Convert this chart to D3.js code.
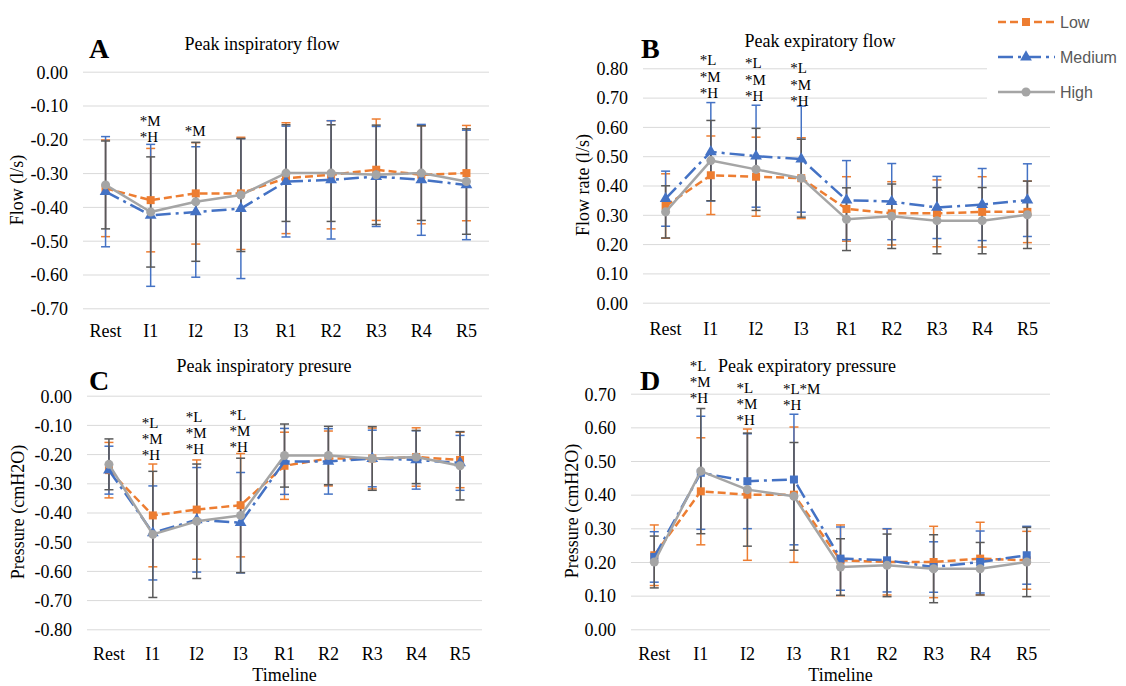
<!DOCTYPE html>
<html>
<head>
<meta charset="utf-8">
<script src="https://cdn.jsdelivr.net/npm/d3@7"></script>
<style>
  body { margin: 0; background: #fff; }
  svg { display: block; }
  text { font-family: "Liberation Serif", "Times New Roman", serif; fill: #000; }
  .legend text { font-family: "Liberation Sans", Arial, sans-serif; fill: #595959; }
</style>
</head>
<body>
<svg id="chart" width="1126" height="686"></svg>
<script>
// 时间点
var categories = ['Rest', 'I1', 'I2', 'I3', 'R1', 'R2', 'R3', 'R4', 'R5']
var seriesNames = ['Low', 'Medium', 'High']

// A 吸气峰流量
var pifLow = [-0.345, -0.38, -0.36, -0.36, -0.315, -0.305, -0.29, -0.305, -0.30]
var pifLowSd = [0.143, 0.153, 0.15, 0.166, 0.164, 0.16, 0.15, 0.145, 0.141]
var pifMed = [-0.355, -0.425, -0.415, -0.405, -0.325, -0.32, -0.31, -0.32, -0.335]
var pifMedSd = [0.163, 0.21, 0.193, 0.207, 0.164, 0.175, 0.148, 0.164, 0.162]
var pifHigh = [-0.335, -0.415, -0.385, -0.365, -0.30, -0.30, -0.305, -0.30, -0.325]
var pifHighSd = [0.13, 0.163, 0.176, 0.167, 0.143, 0.143, 0.147, 0.14, 0.156]

// B 呼气峰流量
var pefLow = [0.33, 0.435, 0.43, 0.425, 0.32, 0.305, 0.305, 0.31, 0.31]
var pefLowSd = [0.11, 0.134, 0.135, 0.138, 0.11, 0.108, 0.114, 0.12, 0.105]
var pefMed = [0.355, 0.515, 0.50, 0.49, 0.35, 0.345, 0.325, 0.335, 0.35]
var pefMedSd = [0.094, 0.168, 0.174, 0.181, 0.135, 0.13, 0.106, 0.123, 0.124]
var pefHigh = [0.31, 0.485, 0.455, 0.425, 0.285, 0.295, 0.28, 0.28, 0.30]
var pefHighSd = [0.089, 0.137, 0.14, 0.133, 0.107, 0.11, 0.113, 0.113, 0.115]

// C 吸气峰压
var pipLow = [-0.255, -0.41, -0.39, -0.375, -0.24, -0.215, -0.215, -0.21, -0.22]
var pipLowSd = [0.095, 0.176, 0.17, 0.177, 0.115, 0.094, 0.104, 0.10, 0.095]
var pipMed = [-0.255, -0.47, -0.425, -0.435, -0.225, -0.225, -0.215, -0.22, -0.23]
var pipMedSd = [0.082, 0.161, 0.179, 0.172, 0.113, 0.112, 0.097, 0.10, 0.094]
var pipHigh = [-0.235, -0.475, -0.43, -0.41, -0.205, -0.205, -0.215, -0.21, -0.24]
var pipHighSd = [0.087, 0.216, 0.196, 0.196, 0.108, 0.10, 0.109, 0.091, 0.117]

// D 呼气峰压
var pepLow = [0.22, 0.41, 0.40, 0.40, 0.205, 0.20, 0.20, 0.21, 0.205]
var pepLowSd = [0.09, 0.159, 0.195, 0.201, 0.105, 0.098, 0.106, 0.108, 0.086]
var pepMed = [0.215, 0.465, 0.44, 0.445, 0.21, 0.205, 0.185, 0.20, 0.22]
var pepMedSd = [0.075, 0.168, 0.141, 0.194, 0.094, 0.094, 0.075, 0.092, 0.086]
var pepHigh = [0.20, 0.47, 0.415, 0.395, 0.185, 0.19, 0.18, 0.18, 0.20]
var pepHighSd = [0.077, 0.186, 0.168, 0.16, 0.084, 0.093, 0.101, 0.078, 0.103]

// 刻度
var ticksA = [0, -0.1, -0.2, -0.3, -0.4, -0.5, -0.6, -0.7]
var ticksB = [0, 0.1, 0.2, 0.3, 0.4, 0.5, 0.6, 0.7, 0.8]
var ticksC = [0, -0.1, -0.2, -0.3, -0.4, -0.5, -0.6, -0.7, -0.8]
var ticksD = [0, 0.1, 0.2, 0.3, 0.4, 0.5, 0.6, 0.7]

// 显著性标注 (at = first line, in data units)
var notesA = [
  { cat: 'I1', lines: ['*M', '*H'], at: -0.146 },
  { cat: 'I2', lines: ['*M'], at: -0.175 },
]
var notesB = [
  { cat: 'I1', lines: ['*L', '*M', '*H'], at: 0.828 },
  { cat: 'I2', lines: ['*L', '*M', '*H'], at: 0.818 },
  { cat: 'I3', lines: ['*L', '*M', '*H'], at: 0.801 },
]
var notesC = [
  { cat: 'I1', lines: ['*L', '*M', '*H'], at: -0.092 },
  { cat: 'I2', lines: ['*L', '*M', '*H'], at: -0.072 },
  { cat: 'I3', lines: ['*L', '*M', '*H'], at: -0.066 },
]
var notesD = [
  { cat: 'I1', lines: ['*L', '*M', '*H'], at: 0.783 },
  { cat: 'I2', lines: ['*L', '*M', '*H'], at: 0.718 },
  { cat: 'I3', lines: ['*L*M', '*H'], at: 0.714 },
]

var serif = '"Liberation Serif", "Times New Roman", serif'

var style = {
  Low: { color: '#ED7D31', err: '#ED7D31', dash: '8,4', shape: d3.symbolSquare, size: 64 },
  Medium: { color: '#4472C4', err: '#4472C4', dash: '15,5,3,5', shape: d3.symbolTriangle, size: 60 },
  High: { color: '#A5A5A5', err: '#595959', dash: null, shape: d3.symbolCircle, size: 64 },
}

var panels = [
  {
    letter: 'A', title: 'Peak inspiratory flow', ylabel: 'Flow (l/s)',
    x0: 83, x1: 489, yTop: 71.7, yBot: 308.3, ticks: ticksA,
    series: [[pifLow, pifLowSd], [pifMed, pifMedSd], [pifHigh, pifHighSd]],
    notes: notesA, noteGap: 15.7,
    letterPos: [89, 58], titlePos: [262, 50], ylabelPos: [17, 190], catOffset: 22, timeline: false,
  },
  {
    letter: 'B', title: 'Peak expiratory flow', ylabel: 'Flow rate (l/s)',
    x0: 643, x1: 1050, yTop: 68.3, yBot: 302.7, ticks: ticksB,
    series: [[pefLow, pefLowSd], [pefMed, pefMedSd], [pefHigh, pefHighSd]],
    notes: notesB, noteGap: 16.5,
    letterPos: [641, 58], titlePos: [820, 47], ylabelPos: [583, 185], catOffset: 26.5, timeline: false,
  },
  {
    letter: 'C', title: 'Peak inspiratory presure', ylabel: 'Pressure (cmH2O)',
    x0: 87, x1: 482, yTop: 395.7, yBot: 629.3, ticks: ticksC,
    series: [[pipLow, pipLowSd], [pipMed, pipMedSd], [pipHigh, pipHighSd]],
    notes: notesC, noteGap: 16,
    letterPos: [89, 390], titlePos: [264, 372], ylabelPos: [18, 512], catOffset: 24.7, timeline: true,
  },
  {
    letter: 'D', title: 'Peak expiratory pressure', ylabel: 'Pressure (cmH2O)',
    x0: 631, x1: 1050, yTop: 393.7, yBot: 629.3, ticks: ticksD,
    series: [[pepLow, pepLowSd], [pepMed, pepMedSd], [pepHigh, pepHighSd]],
    notes: notesD, noteGap: 16, medSquare: true,
    letterPos: [640, 390], titlePos: [807, 372], ylabelPos: [572, 511], catOffset: 24.7, timeline: true,
  },
]

var svg = d3.select('#chart')

panels.forEach(function(p) {
  var x = d3.scaleBand().domain(categories).range([p.x0, p.x1])
  var cx = function(c) { return x(c) + x.bandwidth() / 2 }
  var y = d3.scaleLinear().domain(d3.extent(p.ticks)).range([p.yBot, p.yTop])
  var g = svg.append('g')

  // 网格 + y 轴
  var yAxis = d3.axisLeft(y)
    .tickValues(p.ticks)
    .tickSizeInner(-(p.x1 - p.x0))
    .tickSizeOuter(0)
    .tickPadding(15)
    .tickFormat(function(d) { return d.toFixed(2) })
  g.append('g')
    .attr('transform', 'translate(' + p.x0 + ',0)')
    .call(yAxis)
    .call(function(a) {
      a.attr('font-family', null).attr('font-size', null)
      a.select('.domain').remove()
      a.selectAll('line').attr('stroke', '#d9d9d9').attr('stroke-width', 1)
      a.selectAll('text').attr('dy', '0.35em')
        .style('font-family', serif).style('font-size', '18px').style('fill', '#000')
    })

  // x 轴
  var xAxis = d3.axisBottom(x).tickSize(0).tickPadding(0)
  g.append('g')
    .attr('transform', 'translate(0,' + p.yBot + ')')
    .call(xAxis)
    .call(function(a) {
      a.attr('font-family', null).attr('font-size', null)
      a.select('.domain').remove()
      a.selectAll('text').attr('y', p.catOffset).attr('dy', '0.35em')
        .style('font-family', serif).style('font-size', '18px').style('fill', '#000')
    })

  // 误差线
  var capW = 4.5
  p.series.forEach(function(s, si) {
    var st = style[seriesNames[si]]
    var eg = g.append('g')
    categories.forEach(function(c, i) {
      var hi = y(s[0][i] + s[1][i]), lo = y(s[0][i] - s[1][i]), xc = cx(c)
      eg.append('line').attr('x1', xc).attr('x2', xc).attr('y1', hi).attr('y2', lo)
      eg.append('line').attr('x1', xc - capW).attr('x2', xc + capW).attr('y1', hi).attr('y2', hi)
      eg.append('line').attr('x1', xc - capW).attr('x2', xc + capW).attr('y1', lo).attr('y2', lo)
    })
    eg.selectAll('line').attr('stroke', st.err).attr('stroke-width', 1.5)
  })

  // 折线 + 标记
  p.series.forEach(function(s, si) {
    var name = seriesNames[si]
    var st = style[name]
    var line = d3.line()
      .x(function(d, i) { return cx(categories[i]) })
      .y(function(d) { return y(d) })
    g.append('path')
      .datum(s[0])
      .attr('fill', 'none')
      .attr('stroke', st.color)
      .attr('stroke-width', 2.5)
      .attr('stroke-linejoin', 'round')
      .attr('stroke-dasharray', st.dash)
      .attr('d', line)
    var shape = (name === 'Medium' && p.medSquare) ? d3.symbolSquare : st.shape
    var size = (name === 'Medium' && p.medSquare) ? 64 : st.size
    g.selectAll('.m' + si)
      .data(s[0])
      .enter()
      .append('path')
      .attr('transform', function(d, i) { return 'translate(' + cx(categories[i]) + ',' + y(d) + ')' })
      .attr('d', d3.symbol().type(shape).size(size))
      .attr('fill', st.color)
  })

  // 标注
  p.notes.forEach(function(n) {
    n.lines.forEach(function(t, k) {
      g.append('text')
        .attr('x', cx(n.cat) - 11)
        .attr('y', y(n.at) + k * p.noteGap)
        .attr('dy', '0.35em')
        .style('font-size', '15px')
        .text(t)
    })
  })

  // 字母 / 标题 / y 轴标题
  g.append('text')
    .attr('x', p.letterPos[0]).attr('y', p.letterPos[1])
    .style('font-size', '28px').attr('font-weight', 'bold')
    .text(p.letter)
  g.append('text')
    .attr('x', p.titlePos[0]).attr('y', p.titlePos[1])
    .attr('text-anchor', 'middle').style('font-size', '18px')
    .text(p.title)
  g.append('text')
    .attr('transform', 'translate(' + p.ylabelPos[0] + ',' + p.ylabelPos[1] + ') rotate(-90)')
    .attr('text-anchor', 'middle').attr('dy', '0.35em').style('font-size', '18px')
    .text(p.ylabel)
  if (p.timeline) {
    g.append('text')
      .attr('x', (p.x0 + p.x1) / 2).attr('y', 681)
      .attr('text-anchor', 'middle').style('font-size', '18px')
      .text('Timeline')
  }
})

// 图例
var legend = svg.append('g').attr('class', 'legend')
legend.append('rect').attr('x', 987).attr('y', 0).attr('width', 139).attr('height', 108).attr('fill', '#fff')
var legendY = d3.scalePoint().domain(seriesNames).range([22, 92])
seriesNames.forEach(function(name) {
  var st = style[name]
  var ly = legendY(name)
  legend.append('line')
    .attr('x1', 998).attr('x2', 1055).attr('y1', ly).attr('y2', ly)
    .attr('stroke', st.color).attr('stroke-width', 2.5)
    .attr('stroke-dasharray', st.dash)
  legend.append('path')
    .attr('transform', 'translate(1026,' + ly + ')')
    .attr('d', d3.symbol().type(st.shape).size(st.size))
    .attr('fill', st.color)
  legend.append('text')
    .attr('x', 1060).attr('y', ly).attr('dy', '0.35em')
    .style('font-size', '16px')
    .text(name)
})
</script>
</body>
</html>
